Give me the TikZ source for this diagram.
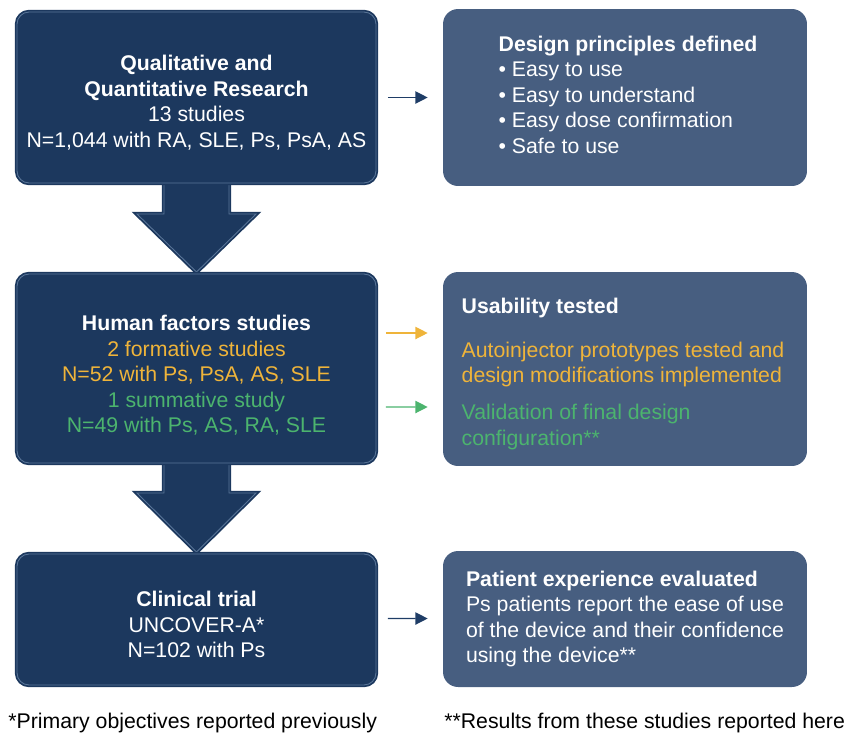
\documentclass[tikz,border=0pt]{standalone}
\usepackage{fontspec}
\setmainfont{Liberation Sans}
\usetikzlibrary{arrows.meta,calc}
\definecolor{navy}{HTML}{1C385E}
\definecolor{navylight}{HTML}{587497}
\definecolor{slate}{HTML}{475E80}
\definecolor{gold}{HTML}{EFB43A}
\definecolor{leaf}{HTML}{4CB46E}
\definecolor{arrowblue}{HTML}{1F3D66}
\begin{document}
\begin{tikzpicture}[x=0.02cm,y=-0.02cm,
	stepbox/.style={fill=navy,draw=navy,double=navylight,double distance=0.5pt,line width=1pt,
		rounded corners=0.24cm,minimum width=7.18cm,inner sep=0pt},
	resultbox/.style={fill=slate,rounded corners=0.3cm,minimum width=7.28cm,inner sep=0pt},
	steptext/.style={text=white,align=center,inner sep=0pt,font=\fontsize{12.1}{14.5}\selectfont},
	resulttext/.style={steptext,align=left},
	bigarrow/.style={fill=navy,draw=navy,double=navylight,double distance=0.5pt,line width=1pt},
	link/.style={-{Triangle[length=7pt,width=7pt]},line width=0.7pt}]
		\useasboundingbox (0,0) rectangle (844,734);
		% down arrows first, boxes on top
		\foreach \top/\tip/\base in {185/272/214,465/552/493}
		\draw[bigarrow] (164,\top-5) -- (164,\base) -- (137,\base) -- (196.5,\tip)
			-- (256,\base) -- (229,\base) -- (229,\top-5) -- cycle;
		\node[stepbox,minimum height=3.42cm] (qual) at (196.5,97.5) {};
		\node[stepbox,minimum height=3.78cm] (human) at (196.5,368.5) {};
		\node[stepbox,minimum height=2.62cm] (trial) at (196.5,619.5) {};
		\node[resultbox,minimum height=3.54cm] (design) at (625,97.5) {};
		\node[resultbox,minimum height=3.88cm] (usab) at (625,369) {};
		\node[resultbox,minimum height=2.72cm] (patient) at (625,619) {};
		\node[steptext] (qualtext) at ($(qual)+(0,5)$) {\textbf{Qualitative and}\\\textbf{Quantitative Research}\\13 studies\\N=1,044 with RA, SLE, Ps, PsA, AS};
		\node[steptext] (humantext) at ($(human)+(0,7)$) {\textbf{Human factors studies}\\\textcolor{gold}{2 formative studies}\\\textcolor{gold}{N=52 with Ps, PsA, AS, SLE}\\\textcolor{leaf}{1 summative study}\\\textcolor{leaf}{N=49 with Ps, AS, RA, SLE}};
		\node[steptext] (trialtext) at ($(trial)+(0,5)$) {\textbf{Clinical trial}\\UNCOVER-A*\\N=102 with Ps};
		\node[resulttext] (designtext) at ($(design)+(3,-3)$) {\textbf{Design principles defined}\\• Easy to use\\• Easy to understand\\• Easy dose confirmation\\• Safe to use};
		\node[resulttext] (usabtext) at ($(usab)+(-2,5)$) {\textbf{Usability tested}\\[10.3pt]\textcolor{gold}{Autoinjector prototypes tested and}\\\textcolor{gold}{design modifications implemented}\\[6.5pt]\textcolor{leaf}{Validation of final design}\\\textcolor{leaf}{configuration**}};
		\node[resulttext] (patienttext) at ($(patient)+(0,0)$) {\textbf{Patient experience evaluated}\\Ps patients report the ease of use\\of the device and their confidence\\using the device**};
		\draw[link,arrowblue] ($(qual.east)+(11,0)$) -- ($(design.west)+(-15,0)$);
		\draw[link,gold] ($(human.east)+(9,-35.5)$) -- ($(usab.west)+(-15,-36)$);
		\draw[link,leaf] ($(human.east)+(9,38.5)$) -- ($(usab.west)+(-15,38)$);
		\draw[link,arrowblue] ($(trial.east)+(11,-1)$) -- ($(patient.west)+(-15,-0.5)$);
		\node[anchor=base west,inner sep=0pt,font=\fontsize{12.1}{14.5}\selectfont] (note1) at (8,728) {*Primary objectives reported previously};
		\node[anchor=base west,inner sep=0pt,font=\fontsize{12.1}{14.5}\selectfont] (note2) at (444,728) {**Results from these studies reported here};
	\end{tikzpicture}
\end{document}
